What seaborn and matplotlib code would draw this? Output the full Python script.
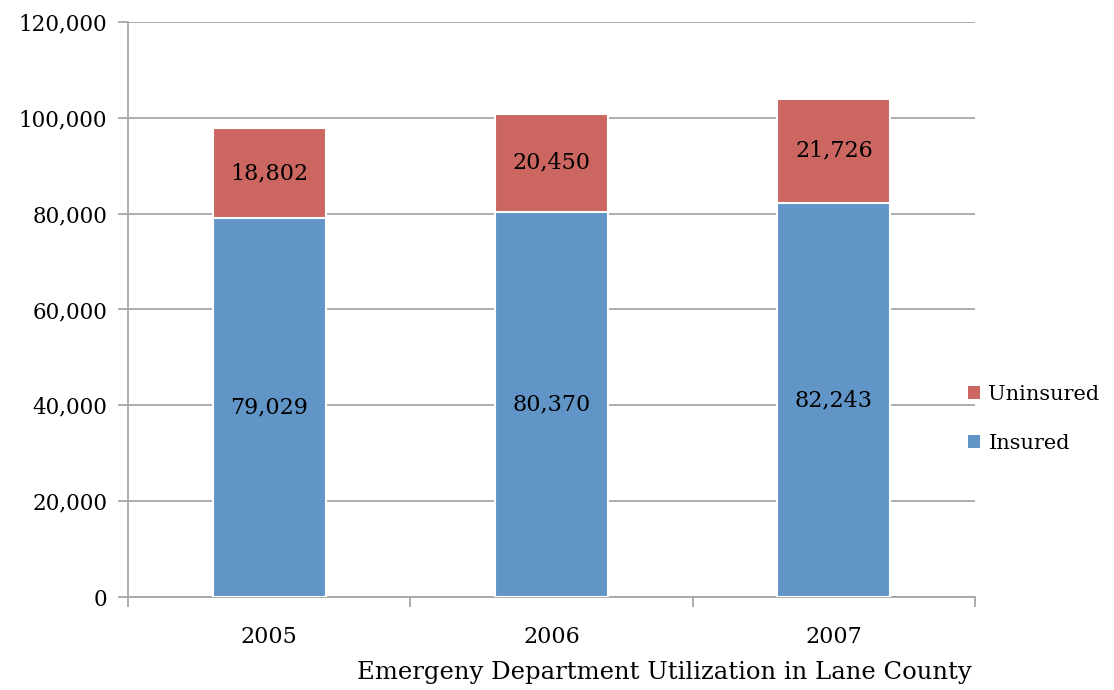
import matplotlib
matplotlib.use("Agg")
import matplotlib.pyplot as plt
import seaborn as sns
import pandas as pd
from matplotlib.patches import Patch
from matplotlib.ticker import FuncFormatter, FixedLocator

years = ["2005", "2006", "2007"]
insured = [79029, 80370, 82243]
uninsured = [18802, 20450, 21726]
title = "Emergeny Department Utilization in Lane County"

RED = "#CC6660"
BLUE = "#6195C8"
GRID = "#A6A6A6"

sns.set_theme(style="white")
plt.rcParams["font.family"] = ["DejaVu Serif"]
plt.rcParams["text.color"] = "black"

df = pd.DataFrame({"year": years, "insured": insured, "uninsured": uninsured})
df["total"] = df["insured"] + df["uninsured"]

fig = plt.figure(figsize=(11.14, 6.9), dpi=100)
ax = fig.add_axes([128/1114, 1-597/690, (975-128)/1114, (597-22)/690])

sns.barplot(data=df, x="year", y="total", color=RED, saturation=1, width=0.4,
            edgecolor="white", linewidth=1.5, ax=ax, zorder=3)
sns.barplot(data=df, x="year", y="insured", color=BLUE, saturation=1, width=0.4,
            edgecolor="white", linewidth=1.5, ax=ax, zorder=3)

for i, (a, b) in enumerate(zip(insured, uninsured)):
    ax.text(i, a / 2, f"{a:,}", ha="center", va="center", fontsize=16, color="black", zorder=4)
    ax.text(i, a + b / 2, f"{b:,}", ha="center", va="center", fontsize=16, color="black", zorder=4)

ax.set_xlim(-0.5, 2.5)
ax.set_ylim(0, 120000)
ax.set_yticks(range(0, 120001, 20000))
ax.yaxis.set_major_formatter(FuncFormatter(lambda v, p: f"{int(v):,}"))
ax.yaxis.grid(True, color=GRID, linewidth=1.3, zorder=0)
ax.set_axisbelow(True)
for s in ["top", "right"]:
    ax.spines[s].set_visible(False)
for s in ["left", "bottom"]:
    ax.spines[s].set_color(GRID)
    ax.spines[s].set_linewidth(1.3)

ax.tick_params(axis="y", which="major", left=True, length=7, width=1.3, color=GRID,
               labelsize=15.5, labelcolor="black", pad=8)
ax.tick_params(axis="x", which="major", bottom=False, labelsize=16, labelcolor="black", pad=15)
ax.xaxis.set_minor_locator(FixedLocator([-0.5, 0.5, 1.5, 2.5]))
ax.tick_params(axis="x", which="minor", bottom=True, length=7, width=1.3, color=GRID)
ax.set_xlabel("")
ax.set_ylabel("")

fig.text(972/1114, 1-673/690, title, ha="right", va="center", fontsize=17.5, color="black")

handles = [Patch(facecolor=RED, edgecolor="none", label="Uninsured"),
           Patch(facecolor=BLUE, edgecolor="none", label="Insured")]
fig.legend(handles=handles, loc="center left", bbox_to_anchor=(953/1114, 1-419/690),
           frameon=False, fontsize=15, handlelength=0.6, handleheight=0.6,
           handletextpad=0.4, labelspacing=1.45, borderpad=0.2, labelcolor="black")

fig.savefig("out.png", dpi=100)
